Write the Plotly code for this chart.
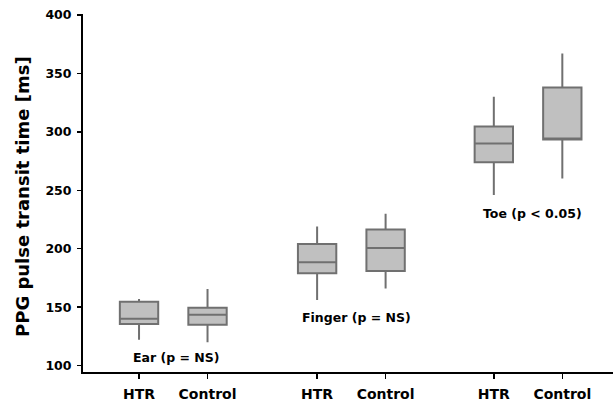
import plotly.graph_objects as go

# Data
groups = ["Ear", "Ear", "Finger", "Finger", "Toe", "Toe"]
tick_labels = ["HTR", "Control", "HTR", "Control", "HTR", "Control"]
positions = [1, 2, 3.6, 4.6, 6.18, 7.18]
lower = [122, 120, 156, 166, 246, 260]
q1 = [135.5, 135, 179, 181, 274, 293.5]
median = [140, 143.5, 188.5, 200.5, 290, 293.5]
q3 = [154.5, 149.5, 204, 216.5, 304.5, 338]
upper = [157, 165.5, 219, 230, 330, 367]
y_ticks = [100, 150, 200, 250, 300, 350, 400]

ann_text = ["Ear (p = NS)", "Finger (p = NS)", "Toe (p < 0.05)"]
ann_x = [1.54, 4.18, 6.75]
ann_y = [106.5, 141.5, 230]
y_title = "PPG pulse transit time [ms]"

font_family = "DejaVu Sans, Liberation Sans, sans-serif"

fig = go.Figure()
fig.add_trace(go.Box(
    x=positions,
    q1=q1, median=median, q3=q3,
    lowerfence=lower, upperfence=upper,
    width=0.56,
    whiskerwidth=0,
    fillcolor="#c0c0c0",
    line=dict(color="#707070", width=2),
    boxpoints=False,
    showlegend=False,
    hoverinfo="skip",
))

for t, x, y in zip(ann_text, ann_x, ann_y):
    fig.add_annotation(x=x, y=y, text="<b>" + t + "</b>", showarrow=False,
                       font=dict(family=font_family, size=12.5, color="black"))

fig.add_annotation(xref="paper", yref="paper", x=-0.1151, y=0.4916,
                   xanchor="center", yanchor="middle", textangle=-90,
                   text="<b>" + y_title + "</b>", showarrow=False,
                   font=dict(family=font_family, size=18, color="black"))

fig.update_layout(
    width=613, height=406,
    margin=dict(l=83, r=0, t=14, b=34, autoexpand=False),
    plot_bgcolor="white", paper_bgcolor="white",
    font=dict(family=font_family, color="black"),
    hovermode=False,
    xaxis=dict(
        range=[0.182, 7.92],
        tickvals=positions,
        ticktext=["<b>" + s + "</b>" for s in tick_labels],
        tickfont=dict(size=14),
        showline=True, linecolor="black", linewidth=2,
        ticks="outside", ticklen=5, tickcolor="black", tickwidth=1.5,
        ticklabelstandoff=3,
        showgrid=False, zeroline=False, automargin=False,
    ),
    yaxis=dict(
        range=[94.5, 400.8],
        tickvals=y_ticks,
        ticktext=["<b>%d</b>" % v for v in y_ticks],
        tickfont=dict(size=12.5),
        showline=True, linecolor="black", linewidth=2,
        ticks="outside", ticklen=4, tickcolor="black", tickwidth=1.5,
        ticklabelstandoff=3,
        showgrid=False, zeroline=False, automargin=False,
    ),
)

fig.write_html(
    "out.html",
    config={"displayModeBar": False, "staticPlot": True},
    post_script="document.body.style.margin='0';document.body.style.overflow='hidden';",
)
